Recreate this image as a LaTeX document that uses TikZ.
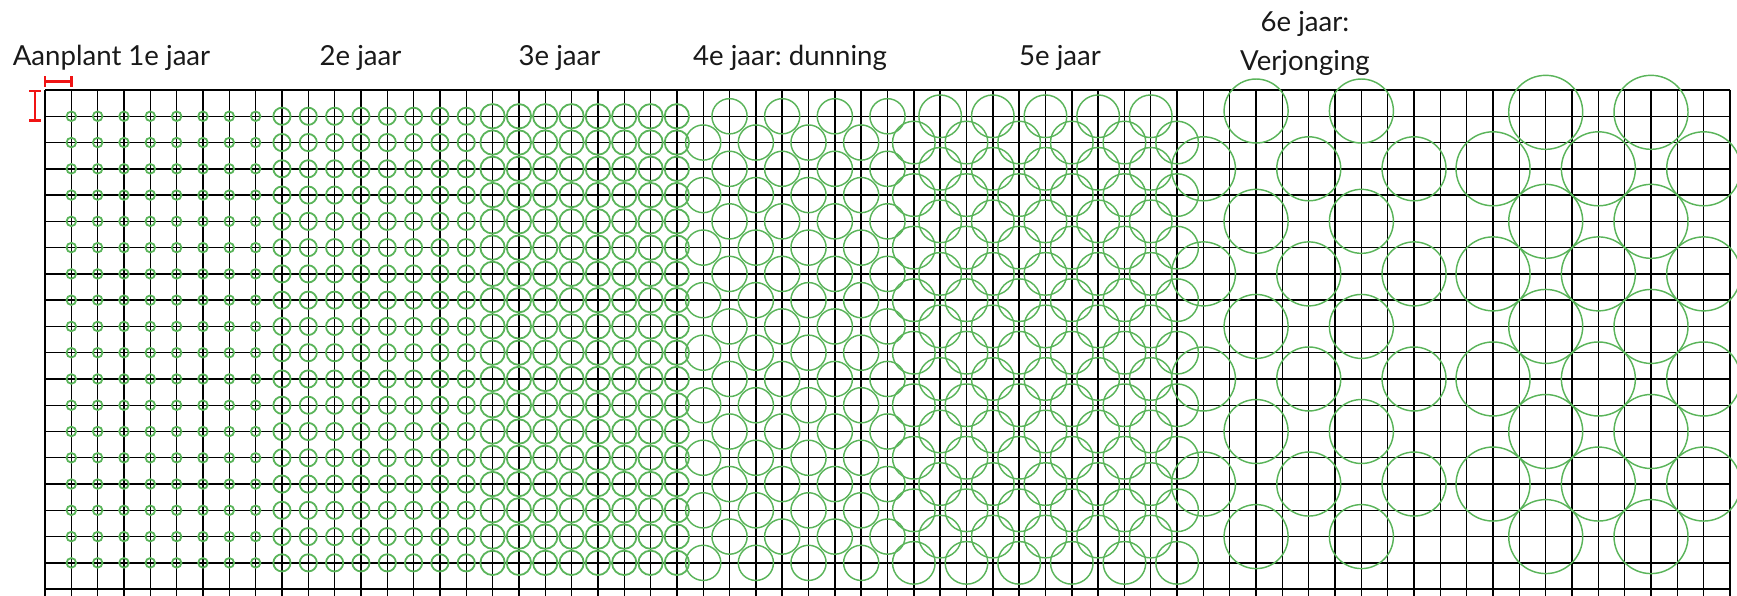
\documentclass[tikz,border=0pt]{standalone}
\usepackage{fontspec}
\setmainfont{Lato}
\definecolor{treegreen}{RGB}{90,180,90}
\definecolor{marker}{RGB}{240,20,20}
\begin{document}
\frenchspacing
\begin{tikzpicture}[x=1pt,y=-1pt,
  gridline/.style={black, line width=1.4pt},
  tree/.style={draw=treegreen, line width=1.8pt},
  bigtree/.style={draw=treegreen, line width=1.45pt},
  redbar/.style={marker, line width=2.4pt},
  titletext/.style={font=\fontsize{27.6}{33}\selectfont, text=black!90, anchor=base, inner sep=0pt}]
\useasboundingbox (0,0) rectangle (1737,596);
\clip (0,0) rectangle (1737,596);
\def\gx{26.328}
\def\gy{26.27}
% grid
\foreach \k in {0,...,64}{\draw[gridline] ({45+\gx*\k},90) -- ({45+\gx*\k},600);}
\foreach \j in {0,...,19}{\draw[gridline] (45,{90+\gy*\j}) -- (1730,{90+\gy*\j});}
% section 1: planting
\foreach \c in {1,...,8}{\foreach \r in {1,...,18}{
  \draw[tree] ({45+\gx*\c},{90+\gy*\r}) circle[radius=4.8pt];}}
% section 2
\foreach \c in {9,...,16}{\foreach \r in {1,...,18}{
  \draw[tree] ({45+\gx*\c},{90+\gy*\r}) circle[radius=8.6pt];}}
% section 3
\foreach \c in {17,...,24}{\foreach \r in {1,...,18}{
  \draw[tree] ({45+\gx*\c},{90+\gy*\r}) circle[radius=12.2pt];}}
% section 4: thinning
\foreach \c in {25,...,32}{\foreach \r in {1,...,18}{
  \pgfmathtruncatemacro\p{mod(\c+\r,2)}
  \ifnum\p=1 \draw[bigtree] ({45+\gx*\c},{90+\gy*\r}) circle[radius=17.6pt];\fi}}
% section 5
\foreach \c in {33,...,43}{\foreach \r in {1,...,18}{
  \pgfmathtruncatemacro\p{mod(\c+\r,2)}
  \ifnum\p=1 \draw[bigtree] ({45+\gx*\c},{90+\gy*\r}) circle[radius=21.3pt];\fi}}
% section 6: rejuvenation
\foreach \c in {46,50}{\foreach \r in {0.8,5,9,13,17}{
  \draw[bigtree] ({45+\gx*\c},{90+\gy*\r}) circle[radius=32pt];}}
\foreach \c in {44,48,52}{\foreach \r in {3,7,11,15}{
  \draw[bigtree] ({45+\gx*\c},{90+\gy*\r}) circle[radius=32pt];}}
\foreach \c in {57,61}{\foreach \r in {0.85,5,9,13,17}{
  \draw[bigtree] ({45+\gx*\c},{90+\gy*\r}) circle[radius=37pt];}}
\foreach \c in {55,59,63}{\foreach \r in {3,7,11,15}{
  \draw[bigtree] ({45+\gx*\c},{90+\gy*\r}) circle[radius=37pt];}}
% red spacing markers
\coordinate (hL) at (45,81.7);
\coordinate (hR) at (71.3,81.7);
\draw[redbar] (hL) -- (hR);
\draw[redbar] ([yshift=-5.3pt]hL) -- ([yshift=5.3pt]hL);
\draw[redbar] ([yshift=-5.3pt]hR) -- ([yshift=5.3pt]hR);
\coordinate (vT) at (35,91);
\coordinate (vB) at (35,120.7);
\draw[redbar] (vT) -- (vB);
\draw[redbar] ([xshift=-5.6pt]vT) -- ([xshift=5.6pt]vT);
\draw[redbar] ([xshift=-5.6pt]vB) -- ([xshift=5.6pt]vB);
% titles
\node[titletext] (t1) at (111.5,66) {Aanplant 1e jaar};
\node[titletext] (t2) at (360.5,66) {2e jaar};
\node[titletext] (t3) at (559.5,66) {3e jaar};
\node[titletext] (t4) at (790,66) {4e jaar: dunning};
\node[titletext] (t5) at (1060,66) {5e jaar};
\node[titletext] (t6a) at (1305,31.7) {6e jaar:};
\node[titletext] (t6b) at (1305,70.7) {Verjonging};
\end{tikzpicture}
\end{document}
